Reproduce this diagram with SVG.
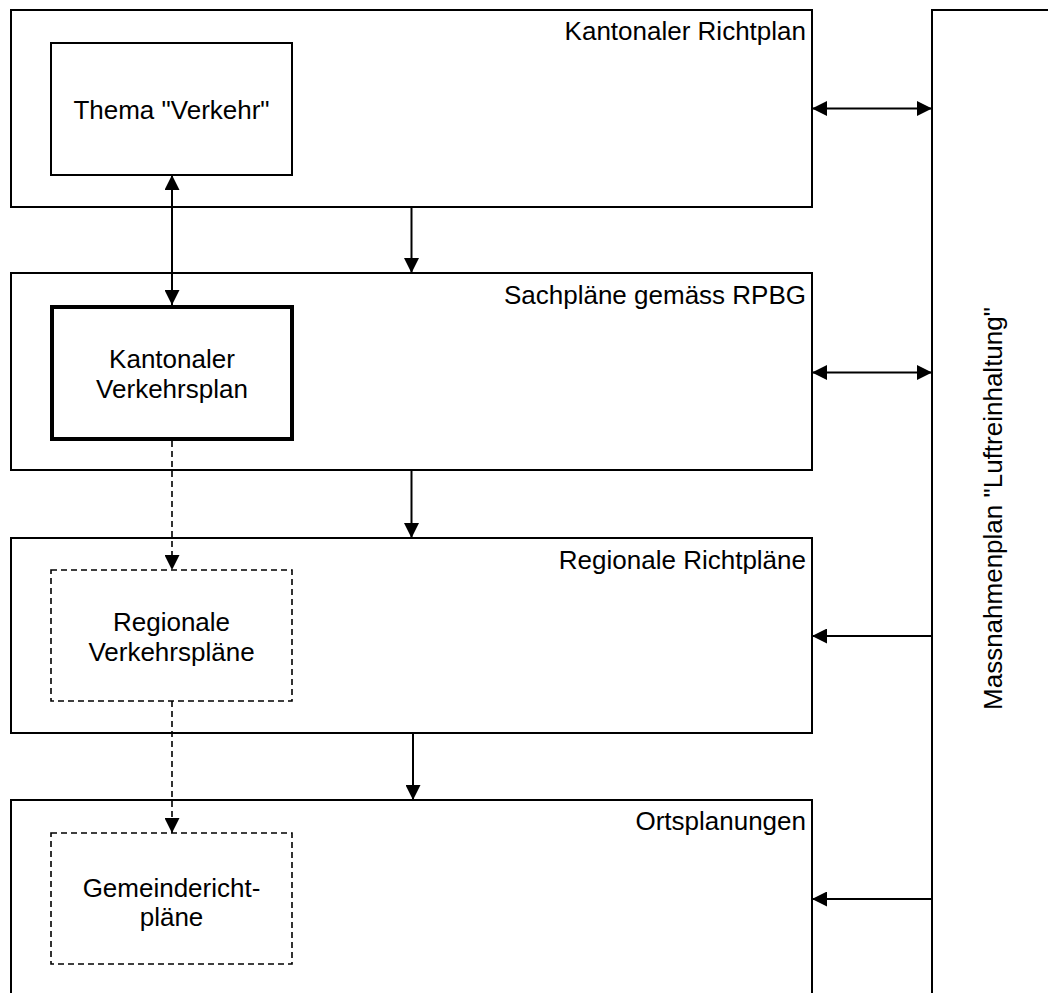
<svg xmlns="http://www.w3.org/2000/svg" width="1048" height="993" viewBox="0 0 1048 993">
<style>
  .box { fill: #ffffff; stroke: #000000; stroke-width: 2; }
  .thick { fill: #ffffff; stroke: #000000; stroke-width: 4; }
  .dash { fill: #ffffff; stroke: #000000; stroke-width: 1.6; stroke-dasharray: 6 4; }
  .lbl { font-family: "Liberation Sans", Arial, sans-serif; font-size: 26px; fill: #000000; }
  .r { text-anchor: end; }
  .c { text-anchor: middle; }
  .ln { fill: none; stroke: #000000; stroke-width: 2; }
  .dl { fill: none; stroke: #000000; stroke-width: 1.6; stroke-dasharray: 6 4; }
</style>
<defs>
  <marker id="ah" viewBox="0 0 15 15" refX="15" refY="7.5" markerWidth="15" markerHeight="15" markerUnits="userSpaceOnUse" orient="auto-start-reverse">
    <path d="M0,0 L15,7.5 L0,15 Z" fill="#000000"/>
  </marker>
</defs>
<rect width="1048" height="993" fill="#ffffff"/>

<g id="massnahmenplan">
  <rect class="box" x="932" y="10" width="200" height="1100"/>
  <text class="lbl c" transform="translate(1002,508.5) rotate(-90)">Massnahmenplan "Luftreinhaltung"</text>
</g>

<g id="kantonaler-richtplan">
  <rect class="box" x="11" y="10" width="801" height="197"/>
  <text class="lbl r" x="806" y="40">Kantonaler Richtplan</text>
</g>
<g id="thema-verkehr">
  <rect class="box" x="51" y="43" width="241" height="132"/>
  <text class="lbl c" x="171.5" y="119">Thema "Verkehr"</text>
</g>

<g id="sachplaene">
  <rect class="box" x="11" y="273" width="801" height="197"/>
  <text class="lbl r" x="806" y="304">Sachpläne gemäss RPBG</text>
</g>
<g id="kantonaler-verkehrsplan">
  <rect class="thick" x="52" y="307" width="240" height="132"/>
  <text class="lbl c" x="172" y="368">Kantonaler</text>
  <text class="lbl c" x="172" y="398">Verkehrsplan</text>
</g>

<g id="regionale-richtplaene">
  <rect class="box" x="11" y="538" width="801" height="195"/>
  <text class="lbl r" x="806" y="569">Regionale Richtpläne</text>
</g>
<g id="regionale-verkehrsplaene">
  <rect class="dash" x="51" y="570" width="241" height="131"/>
  <text class="lbl c" x="171.5" y="631">Regionale</text>
  <text class="lbl c" x="171.5" y="661">Verkehrspläne</text>
</g>

<g id="ortsplanungen">
  <rect class="box" x="11" y="800" width="801" height="300"/>
  <text class="lbl r" x="806" y="830">Ortsplanungen</text>
</g>
<g id="gemeinderichtplaene">
  <rect class="dash" x="51" y="833" width="241" height="131"/>
  <text class="lbl c" x="171.5" y="897">Gemeindericht-</text>
  <text class="lbl c" x="171.5" y="926">pläne</text>
</g>

<g id="connectors">
  <line class="ln" x1="172" y1="175" x2="172" y2="305" marker-start="url(#ah)" marker-end="url(#ah)"/>
  <line class="dl" x1="172" y1="441" x2="172" y2="570" marker-end="url(#ah)"/>
  <line class="dl" x1="172" y1="701" x2="172" y2="833" marker-end="url(#ah)"/>
  <line class="ln" x1="411.5" y1="207" x2="411.5" y2="273" marker-end="url(#ah)"/>
  <line class="ln" x1="411.5" y1="470" x2="411.5" y2="538" marker-end="url(#ah)"/>
  <line class="ln" x1="413" y1="733" x2="413" y2="800" marker-end="url(#ah)"/>
  <line class="ln" x1="812" y1="108.5" x2="932" y2="108.5" marker-start="url(#ah)" marker-end="url(#ah)"/>
  <line class="ln" x1="812" y1="372.5" x2="932" y2="372.5" marker-start="url(#ah)" marker-end="url(#ah)"/>
  <line class="ln" x1="932" y1="636" x2="812" y2="636" marker-end="url(#ah)"/>
  <line class="ln" x1="932" y1="899" x2="812" y2="899" marker-end="url(#ah)"/>
</g>
</svg>
